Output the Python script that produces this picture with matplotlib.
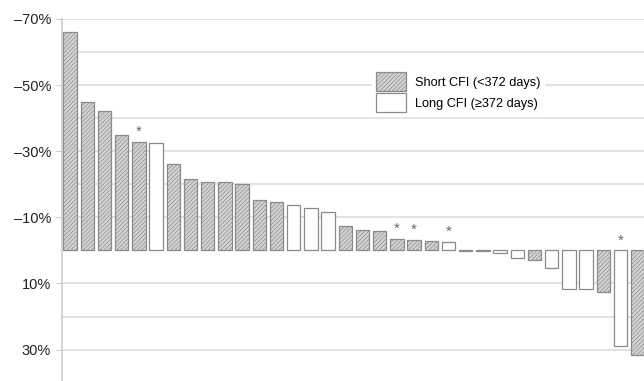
import matplotlib
matplotlib.use("Agg")
import matplotlib.pyplot as plt
from matplotlib.patches import Patch

plt.rcParams['font.family'] = ['Liberation Sans', 'DejaVu Sans']
plt.rcParams['hatch.linewidth'] = 0.5

# change in value (%) per patient, sorted
values = [-66, -45, -42.3, -35, -32.8, -32.6, -26, -21.5, -20.7, -20.7, -20.2,
          -15.1, -14.5, -13.6, -12.9, -11.6, -7.3, -6.1, -5.9, -3.5, -3.2, -2.7,
          -2.5, 0.05, 0.05, 0.7, 2.3, 2.8, 5.2, 11.6, 11.6, 12.6, 28.9, 31.5]
# group: S = short CFI, L = long CFI
groups = ['S', 'S', 'S', 'S', 'S', 'L', 'S', 'S', 'S', 'S', 'S',
          'S', 'S', 'L', 'L', 'L', 'S', 'S', 'S', 'S', 'S', 'S',
          'L', 'L', 'L', 'L', 'L', 'S', 'L', 'L', 'L', 'S', 'L', 'S']
starred = [4, 19, 20, 22, 32]
yticks = [-70, -50, -30, -10, 10, 30]
gridvals = [-70, -60, -50, -40, -30, -20, -10, 10, 20, 30]
labels = ['Short CFI (<372 days)', 'Long CFI (\u2265372 days)']

W, H = 644, 381
fig = plt.figure(figsize=(W / 100, H / 100), dpi=100)
ax = fig.add_axes([62 / W, 0, (W - 62) / W, (H - 19) / H])

for g in gridvals:
    ax.axhline(g, color='#dddddd', lw=1.2, zorder=0)

edge = '#8a8a8a'
HATCH = '////////'
for i, (v, g) in enumerate(zip(values, groups)):
    if g == 'S':
        ax.bar(i, v, width=0.78, facecolor='#d4d4d4', edgecolor=edge,
               hatch=HATCH, lw=0.9, zorder=2)
    else:
        ax.bar(i, v, width=0.78, facecolor='white', edgecolor=edge,
               lw=0.9, zorder=2)

for i in starred:
    y = min(values[i], 0) - 0.9
    ax.text(i, y, '*', ha='center', va='bottom', fontsize=11, color='#666666')

ax.set_ylim(39.5, -70)
ax.set_xlim(-0.47, 33.37)
ax.set_yticks(yticks)
ax.set_yticklabels([('\u2013' if t < 0 else '') + f'{abs(t)}%' for t in yticks],
                   fontsize=10.5, color='#222222')
ax.tick_params(axis='y', length=4, color='#cccccc', pad=4)
ax.set_xticks([])
for s in ['top', 'right', 'bottom']:
    ax.spines[s].set_visible(False)
ax.spines['left'].set_color('#cccccc')
ax.spines['left'].set_linewidth(1.2)

handles = [Patch(facecolor='#d4d4d4', edgecolor=edge, hatch=HATCH, lw=0.9),
           Patch(facecolor='white', edgecolor=edge, lw=0.9)]
leg = ax.legend(handles, labels, loc='upper left',
                bbox_to_anchor=((366 - 62) / (W - 62), 1 - (62 - 19) / (H - 19)),
                frameon=True, fontsize=9.2, handlelength=2.3, handleheight=1.9,
                handletextpad=0.7, labelspacing=0.15, borderpad=0.3,
                fancybox=False, framealpha=1)
leg.get_frame().set_edgecolor('white')
leg.get_frame().set_facecolor('white')
leg.set_zorder(3)

fig.savefig('out.png', dpi=100)
